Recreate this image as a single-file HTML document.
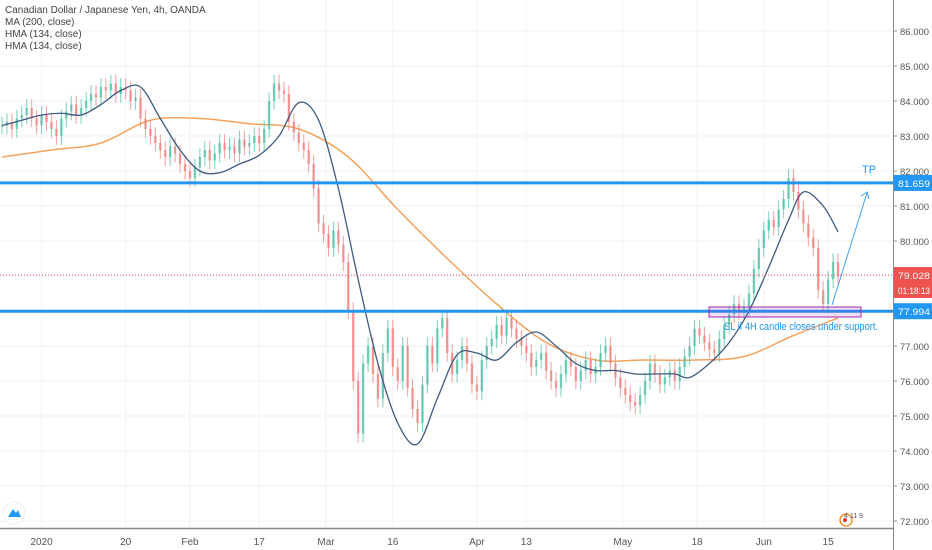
<!DOCTYPE html>
<html><head><meta charset="utf-8"><style>
html,body{margin:0;padding:0;background:#fff;}
svg{display:block;font-family:"Liberation Sans",sans-serif;}
</style></head><body>
<svg id="chart" width="932" height="550" viewBox="0 0 932 550">
<g id="grid"></g>
<g id="ma"></g>
<g id="candles"></g>
<g id="hma"></g>
<g id="overlay"></g>
<g id="axes"></g>
</svg>
<script>
const closes=[83.3,83.4,83.2,83.5,83.6,83.8,83.5,83.3,83.6,83.4,
83.2,83.0,83.5,83.7,83.9,83.6,83.8,84.0,84.2,84.1,
84.4,84.3,84.5,84.2,84.4,84.3,84.0,84.1,83.5,83.2,
83.0,82.8,82.6,82.4,82.7,82.5,82.2,82.0,81.8,82.1,
82.4,82.6,82.3,82.5,82.8,82.6,82.7,82.5,82.9,82.7,
82.8,83.0,82.8,83.2,84.0,84.5,84.3,84.2,83.4,83.1,
82.8,82.6,82.2,81.5,80.5,80.2,79.8,80.3,79.9,79.4,
78.0,76.0,74.5,76.5,77.0,76.2,75.5,76.8,77.5,76.4,
76.0,77.0,75.8,75.2,74.8,75.9,77.0,76.5,77.5,77.8,
76.8,76.2,76.6,77.0,76.5,75.9,75.7,76.6,77.0,77.2,
77.6,77.3,77.8,77.5,77.2,77.0,76.8,76.4,76.6,76.8,
76.3,76.0,75.8,76.2,76.6,76.4,76.0,76.3,76.6,76.2,
76.4,76.8,77.0,76.5,76.1,75.8,75.6,75.4,75.3,75.6,
76.0,76.5,76.2,75.9,76.1,76.3,76.0,76.4,76.7,77.0,
77.5,77.3,77.1,76.9,76.8,77.2,77.6,77.9,78.2,78.0,
78.1,78.5,79.2,79.8,80.3,80.6,80.4,80.9,81.2,81.8,
81.4,80.9,80.5,80.1,79.8,78.6,78.2,78.9,79.4,79.0];
const maIdx=[0,10,20,30,40,50,60,70,80,90,100,110,120,130,140,150,160,169];
const maVals=[82.4,82.6,82.8,83.45,83.5,83.35,83.2,82.4,80.9,79.5,78.2,77.1,76.6,76.6,76.6,76.7,77.3,77.8];
const hmaIdx=[0,4,8,12,16,20,24,28,32,36,40,44,48,52,56,60,64,68,72,76,80,84,88,92,96,100,104,108,112,116,120,124,128,132,136,139,143,147,151,155,159,162,166,169];
const hmaVals=[83.3,83.45,83.6,83.65,83.6,83.9,84.3,84.4,83.5,82.6,82.0,81.95,82.2,82.45,83.0,83.95,83.45,81.5,78.9,76.5,74.8,74.2,75.5,76.75,76.8,76.6,77.1,77.4,77.0,76.5,76.3,76.3,76.2,76.2,76.2,76.1,76.5,77.1,78.0,79.25,80.6,81.4,81.0,80.26];
const priceTicks=[86,85,84,83,82,81,80,79,78,77,76,75,74,73,72];
const dateLabels=["2020","20","Feb","17","Mar","16","Apr","13","May","18","Jun","15"];
const dateIdx=[8,25,38,52,65.5,79,96,106,125.5,140.5,154,167];
const resistance=81.659, support=77.994, lastPrice=79.028;

const NS="http://www.w3.org/2000/svg";
const PW=893, PH=528;
const X=i=>2+i*(836/169);
const Y=p=>31+(86-p)*35;
function el(tag,attrs,parent,text){const e=document.createElementNS(NS,tag);for(const k in attrs)e.setAttribute(k,attrs[k]);if(text!==undefined)e.textContent=text;parent.appendChild(e);return e;}
const grid=document.getElementById('grid'),axes=document.getElementById('axes');
priceTicks.forEach(p=>{
  const g=el('line',{x1:0,x2:PW,y1:Y(p),y2:Y(p),stroke:'#f0f2f5','stroke-width':1},grid);
  
  
  const t=el('text',{x:900,y:Y(p)+4,'font-size':9.5,fill:'#555'},axes,p.toFixed(3));
  
  
  el('line',{x1:PW,x2:PW+4,y1:Y(p),y2:Y(p),stroke:'#999'},axes);
});
dateLabels.forEach((d,k)=>{
  const x=X(dateIdx[k]);
  const g=el('line',{x1:x,x2:x,y1:0,y2:PH,stroke:'#f0f2f5','stroke-width':1},grid);
  
  
  const t=el('text',{x:x,y:545,'font-size':10,fill:'#555','text-anchor':'middle'},axes,d);
  
  
});
el('line',{x1:0,x2:PW,y1:PH+0.5,y2:PH+0.5,stroke:'#888','stroke-width':1.5},axes);
el('line',{x1:PW+0.5,x2:PW+0.5,y1:0,y2:550,stroke:'#888','stroke-width':1},axes);

function smoothPath(idx,vals){
  const pts=idx.map((i,k)=>[X(i),Y(vals[k])]);
  let d='M'+pts[0][0]+' '+pts[0][1];
  for(let k=0;k<pts.length-1;k++){
    const p0=pts[k-1]||pts[k],p1=pts[k],p2=pts[k+1],p3=pts[k+2]||p2;
    const c1=[p1[0]+(p2[0]-p0[0])/6,p1[1]+(p2[1]-p0[1])/6];
    const c2=[p2[0]-(p3[0]-p1[0])/6,p2[1]-(p3[1]-p1[1])/6];
    d+=` C${c1[0]} ${c1[1]} ${c2[0]} ${c2[1]} ${p2[0]} ${p2[1]}`;
  }
  return d;
}
const ma=el('path',{d:smoothPath(maIdx,maVals),fill:'none',stroke:'#f5a35c','stroke-width':1.5},document.getElementById('ma'));



const cg=document.getElementById('candles');
closes.forEach((c,i)=>{
  const o=i?closes[i-1]:c;
  const up=c>=o, col=up?'#4fbfa5':'#ef7f7c';
  const x=X(i);
  const w=el('line',{x1:x,x2:x,y1:Y(Math.max(o,c)+0.25),y2:Y(Math.min(o,c)-0.25),stroke:col,'stroke-width':1,opacity:0.75},cg);
  
  
  const top=Y(Math.max(o,c)),h=Math.max(1,Math.abs(Y(o)-Y(c)));
  const b=el('rect',{x:x-1.2,y:top,width:2.4,height:h,fill:col,opacity:0.7},cg);
  
  
});
const hma=el('path',{d:smoothPath(hmaIdx,hmaVals),fill:'none',stroke:'#3d5a80','stroke-width':1.3},document.getElementById('hma'));



const ov=document.getElementById('overlay');
const r1=el('line',{x1:0,x2:PW,y1:Y(resistance),y2:Y(resistance),stroke:'#2196f3','stroke-width':3},ov);


const s1=el('line',{x1:0,x2:PW,y1:Y(support),y2:Y(support),stroke:'#2196f3','stroke-width':3},ov);


const lp=el('line',{x1:0,x2:PW,y1:Y(lastPrice),y2:Y(lastPrice),stroke:'#ef5350','stroke-width':1,'stroke-dasharray':'1 2'},ov);


const box=el('rect',{x:709,y:307,width:152,height:10,fill:'rgba(156,39,176,0.15)',stroke:'#9c27b0','stroke-width':1},ov);


const sl=el('text',{x:724,y:330,'font-size':11,fill:'#2196f3',textLength:154,lengthAdjust:'spacingAndGlyphs'},ov,'SL if 4H candle closes under support.');


const ar=el('line',{x1:832,y1:305,x2:867,y2:193,stroke:'#42a5f5','stroke-width':1},ov);


el('path',{d:'M861 196 L867 192 L869 199',fill:'none',stroke:'#42a5f5','stroke-width':1},ov);
const tp=el('text',{x:862,y:173,'font-size':11,fill:'#2196f3'},ov,'TP');



function badge(y,txt,bg,name){
  const r=el('rect',{x:894,y:y-8,width:38,height:16,fill:bg},axes);
  
  
  el('text',{x:898,y:y+4,'font-size':9.5,fill:'#fff',textLength:32,lengthAdjust:'spacingAndGlyphs'},axes,txt);
}
badge(Y(resistance),resistance.toFixed(3),'#2196f3','resistance-price-badge');
badge(Y(lastPrice),lastPrice.toFixed(3),'#ef5350','last-price-badge');
badge(Y(lastPrice)+15,'01:18:13','#ef5350','countdown-badge');
badge(Y(support),support.toFixed(3),'#2196f3','support-price-badge');

const leg=[['Canadian Dollar / Japanese Yen, 4h, OANDA',13],['MA (200, close)',25],['HMA (134, close)',37],['HMA (134, close)',49]];
leg.forEach((l,k)=>{
  const t=el('text',{x:5,y:l[1],'font-size':10,fill:'#444'},axes,l[0]);
  
  
});
const logo=el('circle',{cx:14,cy:513,r:11,fill:'#fff',stroke:'#eee'},axes);


el('path',{d:'M8 517 L13 509 L16 513 L18 510 L21 517 Z',fill:'#2196f3'},axes);
const wm=el('circle',{cx:846,cy:520,r:6,fill:'none',stroke:'#f57c00','stroke-width':1.2},axes);


el('circle',{cx:845,cy:520,r:2,fill:'#e53935'},axes);
el('text',{x:844,y:518,'font-size':7,fill:'#555'},axes,'4 11 9');
</script>
</body></html>
